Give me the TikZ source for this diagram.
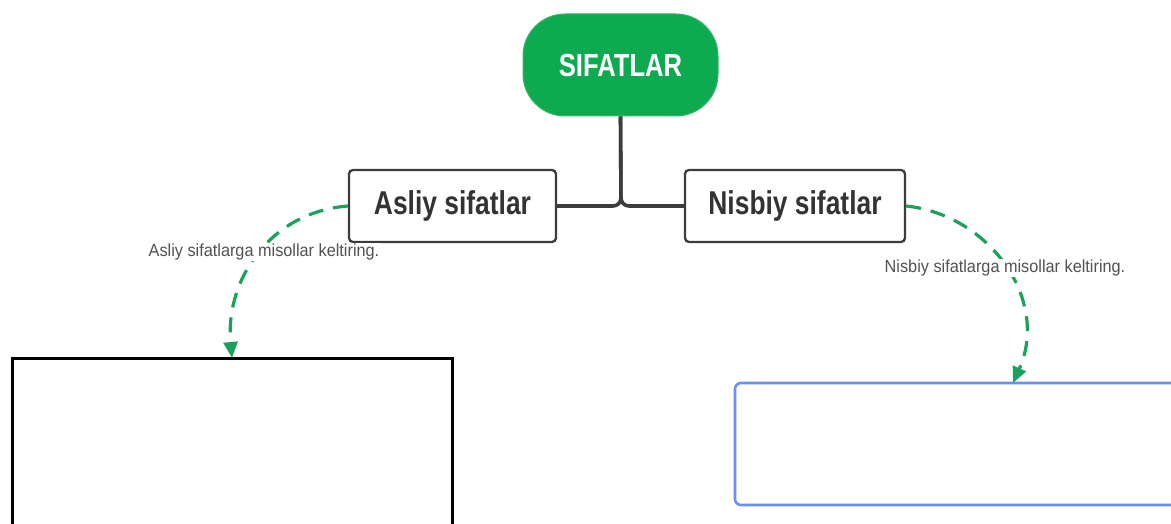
\documentclass[tikz,border=0pt]{standalone}
\usepackage{fontspec}
\setmainfont{Liberation Sans}
\newfontfamily\boldnarrow[FakeStretch=0.8]{Liberation Sans Bold}
\newfontfamily\labnarrow[FakeStretch=0.93]{Liberation Sans}
\usetikzlibrary{arrows.meta}
\definecolor{mmgreen}{HTML}{0EAA4F}
\definecolor{dashgreen}{HTML}{1AA25A}
\definecolor{txtgray}{HTML}{333333}
\definecolor{linegray}{HTML}{3C3C3C}
\definecolor{boxblue}{HTML}{6D8EF2}
\tikzset{
  topic/.style={draw=mmgreen!85!white, line width=1pt, fill=mmgreen, rounded corners=42pt,
    minimum width=195pt, minimum height=102pt, inner sep=0pt, text=white,
    font=\boldnarrow\fontsize{32}{32}\selectfont},
  sub/.style={draw=linegray, line width=2.3pt, fill=white, rounded corners=4pt,
    minimum height=72pt, inner sep=0pt, text=txtgray,
    font=\boldnarrow\fontsize{33}{33}\selectfont},
  trunk/.style={draw=linegray, line width=3.6pt, rounded corners=8pt},
  rel/.style={draw=dashgreen, line width=3.2pt, dash pattern=on 15pt off 10pt,
    -{Triangle[length=16pt,width=14pt]}},
  rellabel/.style={fill=white, inner sep=1pt, text=txtgray!85,
    font=\labnarrow\fontsize{17.5}{17.5}\selectfont},
}
\begin{document}
\begin{tikzpicture}[x=1pt,y=-1pt]
\useasboundingbox (0,0) rectangle (1171,524);
% boxes at bottom
\draw[black, line width=3pt] (12,530) -- (12,358) -- (452,358) -- (452,530);
\node[draw=none, minimum width=440pt, minimum height=170pt, inner sep=0pt] (leftbox) at (232,443) {};
\draw[boxblue, line width=2.6pt, rounded corners=6pt] (1180,383) -- (735,383) -- (735,505) -- (1180,505);
\node[draw=none, minimum width=445pt, minimum height=122pt, inner sep=0pt] (rightbox) at (957,444) {};
% main nodes
\node[topic] (top) at (620.5,65) {SIFATLAR};
\node[sub, minimum width=207pt] (asliy) at (452.5,206) {Asliy sifatlar};
\node[sub, minimum width=220pt] (nisbiy) at (795,206) {Nisbiy sifatlar};
% trunk connectors
\coordinate (junc) at (621,206);
\draw[trunk] (asliy.east) -- (junc) -- (top.south);
\draw[trunk] (nisbiy.west) -- (junc) -- (top.south);
% relationship curves
\coordinate (la) at (232,358);
\coordinate (ra) at (1013,383);
\draw[rel] (asliy.west) .. controls (270,212) and (225,280) .. (la);
\draw[rel] (nisbiy.east) .. controls (990,215) and (1050,300) .. (ra);
\node[rellabel] (lab1) at (264,252) {Asliy sifatlarga misollar keltiring.};
\node[rellabel] (lab2) at (1005,268) {Nisbiy sifatlarga misollar keltiring.};
\end{tikzpicture}
\end{document}
